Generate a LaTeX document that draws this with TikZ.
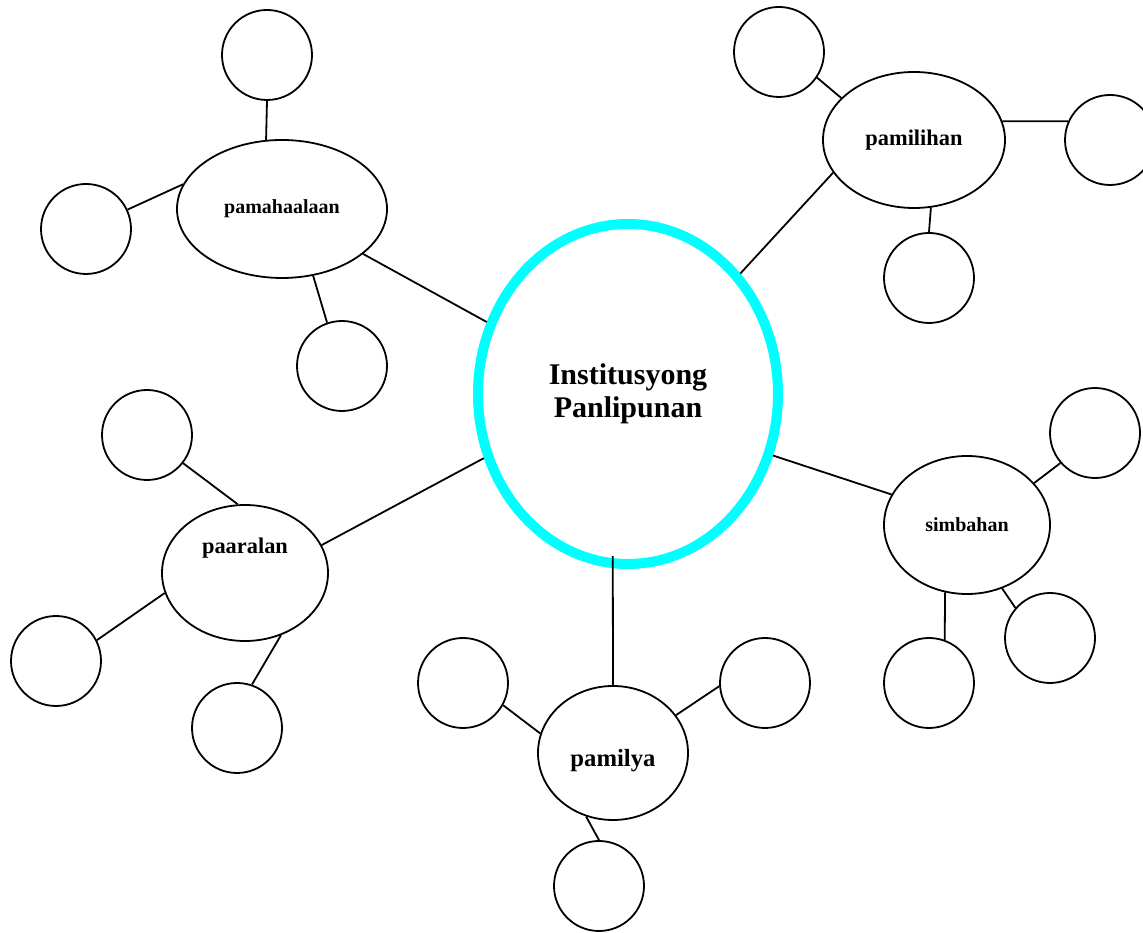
\documentclass[tikz,border=0pt]{standalone}
\usepackage{fontspec}
\setmainfont{Liberation Serif}
\usetikzlibrary{shapes.geometric}
\definecolor{hubcyan}{RGB}{0,255,255}

\begin{document}
\begin{tikzpicture}[
  x=1pt, y=1pt,
  hub/.style={ellipse, draw=hubcyan, line width=10pt, minimum width=300pt, minimum height=340pt, inner sep=0pt, align=center, font=\fontsize{30}{33}\selectfont\bfseries},
  topic/.style={ellipse, draw=black, line width=1.8pt, inner sep=0pt, font=\bfseries},
  blank/.style={circle, draw=black, line width=1.8pt, minimum size=90pt, inner sep=0pt},
  link/.style={draw=black, line width=1.8pt},
]
  \useasboundingbox (0,0) rectangle (1143,933);

  % centre
  \node[hub] (inst) at (628,539) {Institusyong\\Panlipunan};

  % topics
  \node[topic, minimum width=210pt, minimum height=138pt, font=\fontsize{20}{24}\selectfont\bfseries] (pamahaalaan) at (282,724) {pamahaalaan};
  \node[topic, minimum width=182pt, minimum height=136pt, font=\fontsize{22.4}{26}\selectfont\bfseries] (pamilihan) at (914,793) {pamilihan};
  \node[topic, minimum width=166pt, minimum height=136pt] (paaralan) at (245,360) {};
  \node[font=\fontsize{22.4}{26}\selectfont\bfseries] (paaralantxt) at ([yshift=25pt]paaralan.center) {paaralan};
  \node[topic, minimum width=166pt, minimum height=138pt, font=\fontsize{20}{24}\selectfont\bfseries] (simbahan) at (967,408) {simbahan};
  \node[topic, minimum width=150pt, minimum height=134pt, font=\fontsize{24.7}{28}\selectfont\bfseries] (pamilya) at (613,180) {\raisebox{0pt}[0pt][0pt]{\raisebox{-14pt}{pamilya}}};

  % empty circles
  \node[blank] (pamahaalaanA) at (267,878) {};
  \node[blank] (pamahaalaanB) at (86,704) {};
  \node[blank] (pamahaalaanC) at (342,567) {};
  \node[blank] (pamilihanA) at (779,881) {};
  \node[blank] (pamilihanB) at (1110,793) {};
  \node[blank] (pamilihanC) at (929,655) {};
  \node[blank] (paaralanA) at (147,498) {};
  \node[blank] (paaralanB) at (56,272) {};
  \node[blank] (paaralanC) at (237,205) {};
  \node[blank] (simbahanA) at (1095,500) {};
  \node[blank] (simbahanB) at (1050,295) {};
  \node[blank] (simbahanC) at (929,250) {};
  \node[blank] (pamilyaA) at (463,250) {};
  \node[blank] (pamilyaB) at (765,250) {};
  \node[blank] (pamilyaC) at (599,47) {};

  % spokes
  \draw[link] (inst.153) -- (pamahaalaan.-29);
  \draw[link] (inst.47) -- (pamilihan.202);
  \draw[link] (inst.204) -- (paaralan.20);
  \draw[link] (inst.-23) -- (simbahan.158);
  \draw[link] ([yshift=12pt]inst.265) -- (pamilya.north);

  \draw[link] (pamahaalaan.103) -- (pamahaalaanA.south);
  \draw[link] (pamahaalaan.166) -- (pamahaalaanB.25);
  \draw[link] (pamahaalaan.-65) -- (pamahaalaanC.109);

  \draw[link] (pamilihan.150) -- (pamilihanA.-34);
  \draw[link] (pamilihan.12) -- (pamilihanB.156);
  \draw[link] (pamilihan.-76) -- (pamilihanC.north);

  \draw[link] (paaralan.96) -- (paaralanA.-38);
  \draw[link] (paaralan.194) -- (paaralanB.27);
  \draw[link] (paaralan.-60) -- (paaralanC.71);

  \draw[link] (simbahan.32) -- (simbahanA.221);
  \draw[link] (simbahan.-61) -- (simbahanB.139);
  \draw[link] (simbahan.252) -- (simbahanC.70);

  \draw[link] (pamilya.165) -- (pamilyaA.-29);
  \draw[link] (pamilya.31) -- (pamilyaB.184);
  \draw[link] (pamilya.247) -- (pamilyaC.north);
\end{tikzpicture}
\end{document}
